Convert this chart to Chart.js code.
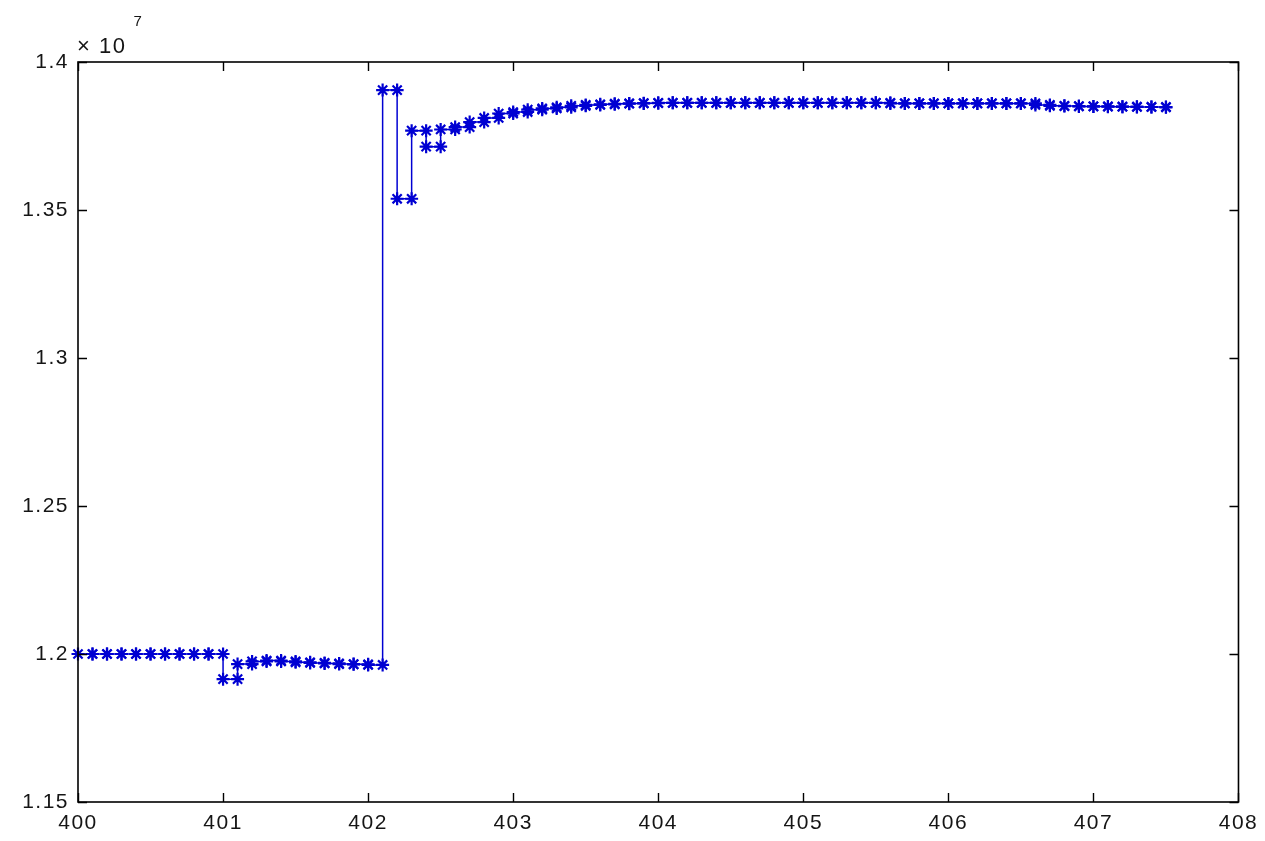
<!DOCTYPE html>
<html>
<head>
<meta charset="utf-8">
<script src="https://cdn.jsdelivr.net/npm/chart.js@4/dist/chart.umd.min.js"></script>
<style>
  html, body { margin: 0; padding: 0; background: #ffffff; }
  #wrap { width: 1265px; height: 841px; }
</style>
</head>
<body>
<div id="wrap"><canvas id="c" width="1265" height="841"></canvas></div>
<script>
// Sample positions (x)
const xValues = [
  400.0, 400.1, 400.2, 400.3, 400.4, 400.5, 400.6, 400.7, 400.8, 400.9,
  401.0, 401.1, 401.2, 401.3, 401.4, 401.5, 401.6, 401.7, 401.8, 401.9,
  402.0, 402.1, 402.2, 402.3, 402.4, 402.5, 402.6, 402.7, 402.8, 402.9,
  403.0, 403.1, 403.2, 403.3, 403.4, 403.5, 403.6, 403.7, 403.8, 403.9,
  404.0, 404.1, 404.2, 404.3, 404.4, 404.5, 404.6, 404.7, 404.8, 404.9,
  405.0, 405.1, 405.2, 405.3, 405.4, 405.5, 405.6, 405.7, 405.8, 405.9,
  406.0, 406.1, 406.2, 406.3, 406.4, 406.5, 406.6, 406.7, 406.8, 406.9,
  407.0, 407.1, 407.2, 407.3, 407.4, 407.5
];
// Series values (in units of 10^7)
const yValues = [
  1.2000, 1.2000, 1.2000, 1.2000, 1.2000, 1.2000, 1.2000, 1.2000, 1.2000, 1.2000,
  1.1915, 1.1966, 1.1975, 1.1978, 1.1975, 1.1972, 1.1970, 1.1968, 1.1966, 1.1965,
  1.1963, 1.3905, 1.3538, 1.3768, 1.3714, 1.3772, 1.3780, 1.3797, 1.3811, 1.3826,
  1.3831, 1.3839, 1.3843, 1.3847, 1.3852, 1.3855, 1.3857, 1.3859, 1.3860, 1.3861,
  1.3862, 1.3862, 1.3862, 1.3862, 1.3862, 1.3862, 1.3862, 1.3862, 1.3862, 1.3862,
  1.3862, 1.3862, 1.3862, 1.3862, 1.3862, 1.3862, 1.3860, 1.3860, 1.3860, 1.3860,
  1.3860, 1.3860, 1.3860, 1.3860, 1.3860, 1.3860, 1.3855, 1.3852, 1.3851, 1.3850,
  1.3850, 1.3849, 1.3849, 1.3848, 1.3848, 1.3847
];
// Axis tick values
const xTicks = [400, 401, 402, 403, 404, 405, 406, 407, 408];
const yTicks = [1.15, 1.2, 1.25, 1.3, 1.35, 1.4];
const yExponentBase = '× 10';
const yExponent = '7';

// Stairs vertices (MATLAB stairs style: horizontal then vertical)
const stairPoints = [];
for (let i = 0; i < xValues.length; i++) {
  stairPoints.push({ x: xValues[i], y: yValues[i] });
  if (i < xValues.length - 1) stairPoints.push({ x: xValues[i + 1], y: yValues[i] });
}

const FONT = "'Liberation Sans', Arial, Helvetica, sans-serif";
const TEXT = '#151515';
const BLUE = '#0000d2';

const spacing = {
  id: 'spacing',
  beforeDraw(chart) { chart.ctx.letterSpacing = '1.5px'; }
};

const frame = {
  id: 'matlabFrame',
  afterDraw(chart) {
    const { ctx, chartArea: a, scales } = chart;
    ctx.save();
    ctx.strokeStyle = '#000';
    ctx.lineWidth = 1.6;
    ctx.strokeRect(a.left, a.top, a.right - a.left, a.bottom - a.top);
    ctx.lineWidth = 1.4;
    const tl = 9;
    ctx.beginPath();
    xTicks.forEach(v => {
      const px = Math.round(scales.x.getPixelForValue(v)) + 0.5;
      ctx.moveTo(px, a.bottom); ctx.lineTo(px, a.bottom - tl);
      ctx.moveTo(px, a.top); ctx.lineTo(px, a.top + tl);
    });
    yTicks.forEach(v => {
      const py = Math.round(scales.y.getPixelForValue(v)) + 0.5;
      ctx.moveTo(a.left, py); ctx.lineTo(a.left + tl, py);
      ctx.moveTo(a.right, py); ctx.lineTo(a.right - tl, py);
    });
    ctx.stroke();
    // exponent label
    ctx.letterSpacing = '1.5px';
    ctx.fillStyle = TEXT;
    ctx.textBaseline = 'alphabetic';
    ctx.textAlign = 'left';
    ctx.font = '22px ' + FONT;
    ctx.fillText(yExponentBase, a.left - 1, a.top - 9);
    const w = ctx.measureText(yExponentBase).width;
    ctx.font = '15px ' + FONT;
    ctx.fillText(yExponent, a.left - 1 + w + 7, a.top - 36);
    ctx.restore();
  }
};

new Chart(document.getElementById('c'), {
  type: 'line',
  data: {
    datasets: [{
      data: stairPoints,
      borderColor: BLUE,
      borderWidth: 1.5,
      pointStyle: 'star',
      pointRadius: 6.5,
      pointBorderWidth: 2.2,
      pointBorderColor: BLUE,
      pointBackgroundColor: BLUE,
      tension: 0,
      fill: false,
      clip: 12
    }]
  },
  options: {
    responsive: false,
    animation: false,
    events: [],
    layout: { padding: { left: 0, top: 62, right: 23, bottom: 0 } },
    plugins: { legend: { display: false }, tooltip: { enabled: false } },
    scales: {
      x: {
        type: 'linear',
        min: 400, max: 408,
        border: { display: false },
        grid: { display: false, drawTicks: false },
        afterFit(s) { s.height = 39; },
        afterBuildTicks(s) { s.ticks = xTicks.map(v => ({ value: v })); },
        ticks: {
          padding: 9,
          color: TEXT,
          font: { family: FONT, size: 21 },
          maxRotation: 0,
          callback: v => String(v)
        }
      },
      y: {
        type: 'linear',
        min: 1.15, max: 1.4,
        border: { display: false },
        grid: { display: false, drawTicks: false },
        afterFit(s) { s.width = 78; },
        afterBuildTicks(s) { s.ticks = yTicks.map(v => ({ value: v })); },
        ticks: {
          padding: 9,
          color: TEXT,
          font: { family: FONT, size: 21 },
          callback: v => String(Number(v.toFixed(2)))
        }
      }
    }
  },
  plugins: [spacing, frame]
});
</script>
</body>
</html>
